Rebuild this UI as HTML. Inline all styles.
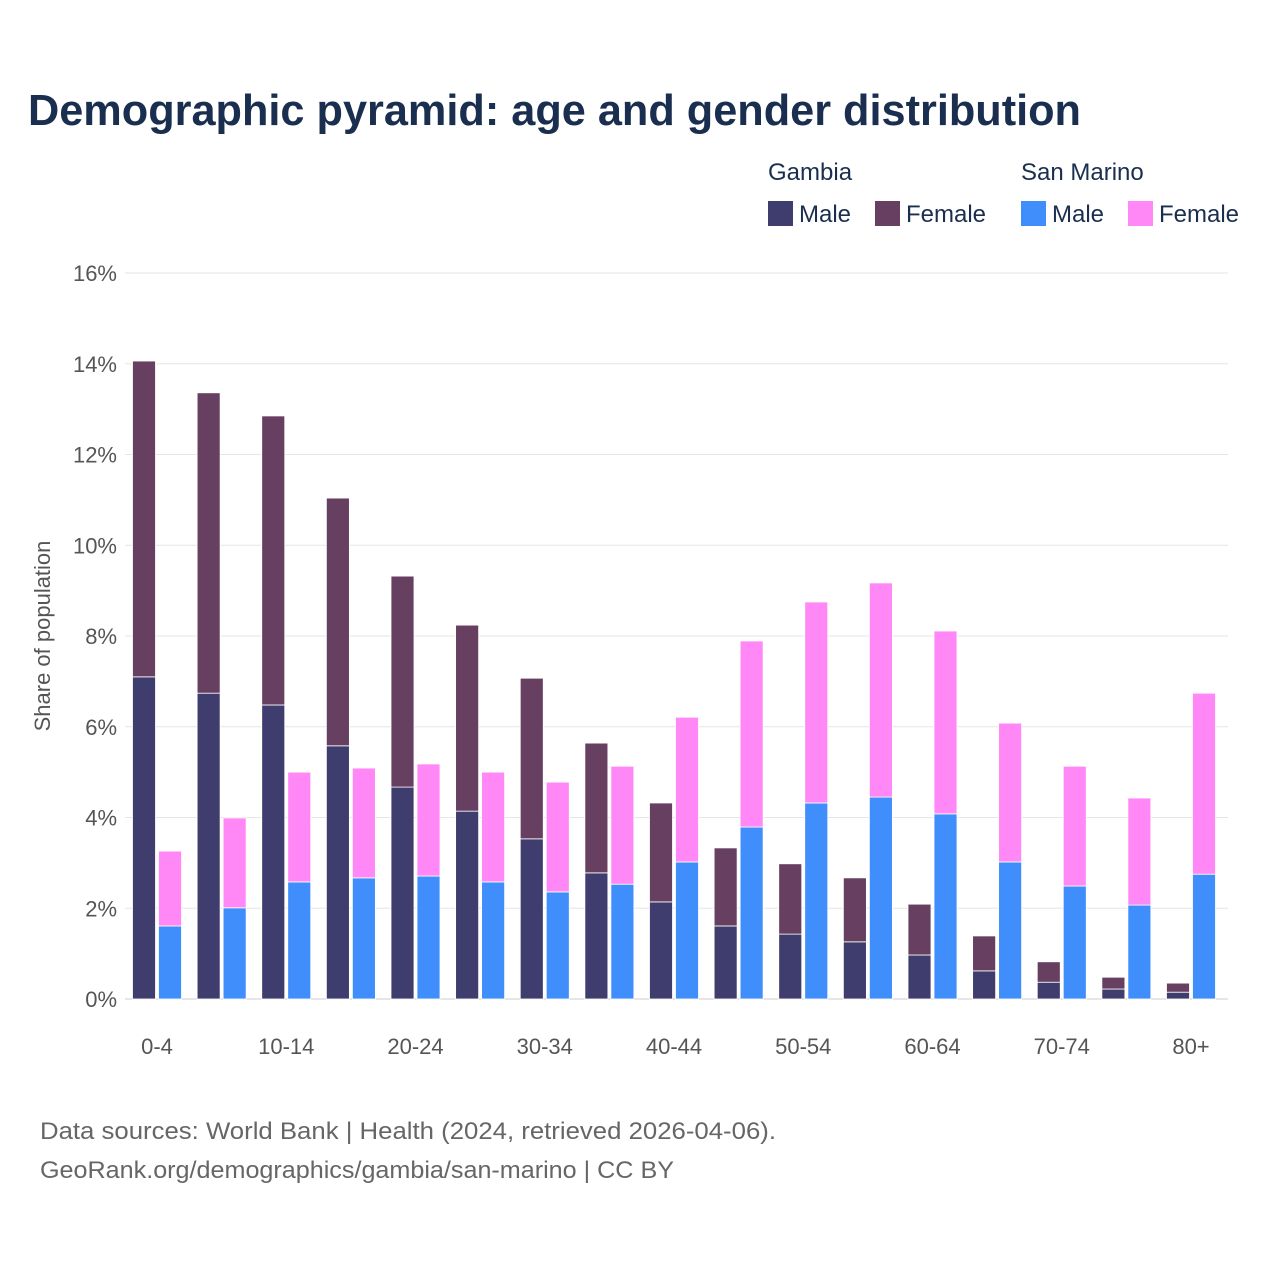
<!DOCTYPE html>
<html><head><meta charset="utf-8"><style>
body{margin:0;background:#fff;font-family:"Liberation Sans",sans-serif}
svg{display:block}
</style></head><body>
<svg id="chart" width="1280" height="1280" viewBox="0 0 1280 1280">
<rect width="1280" height="1280" fill="#fff"/>
<text x="28" y="125" font-size="44" font-weight="bold" fill="#1a2e4f" textLength="1053" lengthAdjust="spacingAndGlyphs">Demographic pyramid: age and gender distribution</text>
<g font-size="24" fill="#1a2e4f">
<text x="768" y="180">Gambia</text>
<text x="1021" y="180">San Marino</text>
<rect x="768" y="201" width="25" height="25" fill="#3f3d6e"/>
<text x="799" y="222">Male</text>
<rect x="875" y="201" width="25" height="25" fill="#673f60"/>
<text x="906" y="222">Female</text>
<rect x="1021" y="201" width="25" height="25" fill="#3f8efc"/>
<text x="1052" y="222">Male</text>
<rect x="1128" y="201" width="25" height="25" fill="#ff88f6"/>
<text x="1159" y="222">Female</text>
</g>
<text transform="translate(50,636) rotate(-90)" text-anchor="middle" font-size="22" fill="#555">Share of population</text>
<g id="grid"></g><g id="bars"></g><g id="xlabels"></g>
<text x="40" y="1139" font-size="24" fill="#666" textLength="736" lengthAdjust="spacingAndGlyphs">Data sources: World Bank | Health (2024, retrieved 2026-04-06).</text>
<text x="40" y="1178" font-size="24" fill="#666" textLength="634" lengthAdjust="spacingAndGlyphs">GeoRank.org/demographics/gambia/san-marino | CC BY</text>
</svg>
<script>
const categories=["0-4","5-9","10-14","15-19","20-24","25-29","30-34","35-39","40-44","45-49","50-54","55-59","60-64","65-69","70-74","75-79","80+"];
const gambiaMale=[7.10,6.74,6.48,5.58,4.67,4.14,3.53,2.78,2.14,1.61,1.43,1.26,0.97,0.62,0.37,0.22,0.15];
const gambiaFemale=[6.96,6.62,6.37,5.46,4.65,4.10,3.54,2.86,2.18,1.72,1.55,1.41,1.12,0.77,0.45,0.26,0.20];
const smMale=[1.61,2.01,2.58,2.67,2.71,2.58,2.36,2.53,3.02,3.79,4.32,4.45,4.08,3.02,2.49,2.07,2.75];
const smFemale=[1.65,1.98,2.42,2.42,2.47,2.42,2.42,2.60,3.19,4.10,4.43,4.72,4.03,3.06,2.64,2.36,3.99];
const yTicks=[0,2,4,6,8,10,12,14,16];
const NS="http://www.w3.org/2000/svg";
const y0=999,pxPer=(999-273)/16;
const yS=v=>y0-v*pxPer;
const xC=i=>157+i*64.625;
function mk(tag,attrs,parent){const e=document.createElementNS(NS,tag);for(const k in attrs)e.setAttribute(k,attrs[k]);parent.appendChild(e);return e;}
const grid=document.getElementById('grid');
yTicks.forEach(t=>{
  const l=mk('line',{x1:125,x2:1228,y1:yS(t),y2:yS(t),stroke:t===0?'#ccc':'#e6e6e6','stroke-width':1},grid);
  
  
  const tx=mk('text',{x:117,y:yS(t)+8,'text-anchor':'end','font-size':22,fill:'#555'},grid);
  tx.textContent=t+'%';
  
  
});
const bars=document.getElementById('bars');
const W=23;
categories.forEach((c,i)=>{
  const gx=xC(i)-W-1.5, sx=xC(i)+1.5;
  const segs=[[gx,0,gambiaMale[i],'#3f3d6e','bar-gambia-male-'+c],[gx,gambiaMale[i],gambiaFemale[i],'#673f60','bar-gambia-female-'+c],
    [sx,0,smMale[i],'#3f8efc','bar-san-marino-male-'+c],[sx,smMale[i],smFemale[i],'#ff88f6','bar-san-marino-female-'+c]];
  segs.forEach(s=>{
    const r=mk('rect',{x:s[0],y:yS(s[1]+s[2]),width:W,height:s[2]*pxPer,fill:s[3],stroke:'#fff','stroke-width':0.8},bars);
    
    
  });
  if(i%2===0){
    const t=mk('text',{x:xC(i),y:1054,'text-anchor':'middle','font-size':22,fill:'#555'},document.getElementById('xlabels'));
    t.textContent=c;
    
    
  }
});
</script>
</body></html>
